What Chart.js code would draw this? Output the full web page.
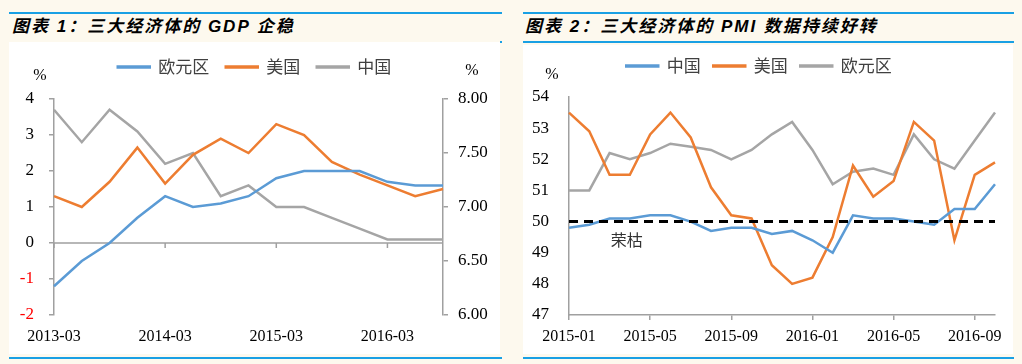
<!DOCTYPE html>
<html>
<head>
<meta charset="utf-8">
<script src="https://cdn.jsdelivr.net/npm/chart.js@4.4.1/dist/chart.umd.min.js"></script>
<style>
body { margin: 0; background: #fdf9ee; width: 1022px; height: 364px; position: relative; overflow: hidden; }
.rule { position: absolute; height: 2px; background: #19a0e4; }
.title { position: absolute; font-family: "Liberation Sans", "Noto Sans CJK SC", sans-serif; font-weight: bold; font-style: italic; font-size: 17px; letter-spacing: 2px; line-height: 20px; color: #000; white-space: nowrap; }
.panel { position: absolute; background: #fff; }
canvas { display: block; }
</style>
</head>
<body>
<div class="rule" style="left:9px;top:12px;width:493px"></div>
<div class="title" style="left:12px;top:17px">图表 1：三大经济体的 GDP 企稳</div>
<div class="panel" style="left:9px;top:42px;width:491px;height:312px"><canvas id="gdp" width="491" height="312"></canvas></div>
<div class="rule" style="left:500px;top:41px;width:2px"></div>
<div class="rule" style="left:9px;top:357px;width:493px"></div>

<div class="rule" style="left:523px;top:12px;width:491px"></div>
<div class="title" style="left:525px;top:17px">图表 2：三大经济体的 PMI 数据持续好转</div>
<div class="rule" style="left:523px;top:41px;width:491px"></div>
<div class="panel" style="left:523px;top:45px;width:490px;height:309px"><canvas id="pmi" width="490" height="309"></canvas></div>
<div class="rule" style="left:523px;top:357px;width:491px"></div>

<script>
// GDP, quarterly, %
const gdpLabels = ['2013-03', '2013-06', '2013-09', '2013-12', '2014-03', '2014-06', '2014-09', '2014-12',
    '2015-03', '2015-06', '2015-09', '2015-12', '2016-03', '2016-06', '2016-09'];
const gdpEuro = [-1.2, -0.5, 0.0, 0.7, 1.3, 1.0, 1.1, 1.3, 1.8, 2.0, 2.0, 2.0, 1.7, 1.6, 1.6];
const gdpUS = [1.3, 1.0, 1.7, 2.65, 1.65, 2.45, 2.9, 2.5, 3.3, 3.0, 2.25, 1.9, 1.6, 1.3, 1.5];
const gdpChina = [7.9, 7.6, 7.9, 7.7, 7.4, 7.5, 7.1, 7.2, 7.0, 7.0, 6.9, 6.8, 6.7, 6.7, 6.7];

// PMI, monthly
const pmiLabels = ['2015-01', '2015-02', '2015-03', '2015-04', '2015-05', '2015-06', '2015-07', '2015-08',
    '2015-09', '2015-10', '2015-11', '2015-12', '2016-01', '2016-02', '2016-03', '2016-04', '2016-05',
    '2016-06', '2016-07', '2016-08', '2016-09', '2016-10'];
const pmiChina = [49.8, 49.9, 50.1, 50.1, 50.2, 50.2, 50.0, 49.7, 49.8, 49.8, 49.6, 49.7, 49.4, 49.0,
    50.2, 50.1, 50.1, 50.0, 49.9, 50.4, 50.4, 51.2];
const pmiUS = [53.5, 52.9, 51.5, 51.5, 52.8, 53.5, 52.7, 51.1, 50.2, 50.1, 48.6, 48.0, 48.2, 49.5,
    51.8, 50.8, 51.3, 53.2, 52.6, 49.4, 51.5, 51.9];
const pmiEuro = [51.0, 51.0, 52.2, 52.0, 52.2, 52.5, 52.4, 52.3, 52.0, 52.3, 52.8, 53.2, 52.3, 51.2,
    51.6, 51.7, 51.5, 52.8, 52.0, 51.7, 52.6, 53.5];
const pmiBoom = pmiLabels.map(() => 50);

const BLUE = '#5b9bd5';
const ORANGE = '#ed7d31';
const GRAY = '#a5a5a5';
const AXIS = '#a0a0a0';
const serif = { family: '"Liberation Serif", "Times New Roman", serif', size: 17 };
const xFont = { family: '"Liberation Serif", "Times New Roman", serif', size: 16 };
const cjk = { family: '"Noto Sans CJK SC", sans-serif', size: 17 };

const everyFourth = s => { s.ticks = s.ticks.filter((t, i) => i % 4 === 0); };

// empty title used as a gap between legend and plot
const spacer = gap => ({
    display: true, text: '', weight: 500, font: { size: 10, lineHeight: 1 },
    padding: { top: 0, bottom: gap - 10 }
});

const extras = {
    id: 'extras',
    beforeDatasetsDraw(chart, args, opts) {
        if (!opts.zeroLine) return;
        const { ctx, chartArea, scales: { x, y } } = chart;
        const y0 = y.getPixelForValue(0);
        ctx.save();
        ctx.strokeStyle = AXIS;
        ctx.lineWidth = 1.5;
        ctx.beginPath();
        ctx.moveTo(chartArea.left, y0);
        ctx.lineTo(chartArea.right, y0);
        x.ticks.forEach(t => {
            const px = x.getPixelForValue(t.value);
            ctx.moveTo(px, y0);
            ctx.lineTo(px, y0 + 5);
        });
        ctx.stroke();
        ctx.restore();
    },
    afterDraw(chart, args, opts) {
        const { ctx, chartArea } = chart;
        ctx.save();
        ctx.textAlign = 'center';
        ctx.textBaseline = 'middle';
        ctx.fillStyle = '#000';
        ctx.font = '16px "Liberation Serif"';
        (opts.units || []).forEach(u => {
            const sx = u.side === 'right' ? chartArea.right : chartArea.left;
            ctx.fillText('%', sx + u.dx, chartArea.top + u.dy);
        });
        if (opts.note) {
            ctx.font = '16px "Noto Sans CJK SC"';
            ctx.fillStyle = '#333';
            ctx.fillText(opts.note.text, chart.scales.x.getPixelForValue(opts.note.x),
                chart.scales.y.getPixelForValue(opts.note.y));
        }
        ctx.restore();
    }
};

function line(label, data, color, extra) {
    return Object.assign({
        label: label, data: data, borderColor: color, backgroundColor: color,
        borderWidth: 2.5, pointRadius: 0, tension: 0, fill: false
    }, extra || {});
}

new Chart(document.getElementById('gdp'), {
    type: 'line',
    data: {
        labels: gdpLabels,
        datasets: [
            line('欧元区', gdpEuro, BLUE),
            line('美国', gdpUS, ORANGE),
            line('中国', gdpChina, GRAY, { yAxisID: 'y1' })
        ]
    },
    options: {
        responsive: false,
        animation: false,
        devicePixelRatio: 1,
        layout: { padding: 0 },
        plugins: {
            legend: {
                labels: { boxWidth: 32, boxHeight: 1, padding: 16.5, font: cjk, color: '#404040' }
            },
            title: spacer(13.5),
            tooltip: { enabled: false },
            extras: {
                zeroLine: true,
                units: [{ side: 'left', dx: -14, dy: -23 }, { side: 'right', dx: 29, dy: -28 }]
            }
        },
        scales: {
            x: {
                afterBuildTicks: everyFourth,
                afterFit: s => { s.height = 39; },
                border: { display: false },
                grid: { display: false, drawTicks: false },
                ticks: { autoSkip: false, maxRotation: 0, padding: 12, font: xFont, color: '#000' }
            },
            y: {
                min: -2, max: 4,
                afterFit: s => { s.width = 45; },
                border: { display: true, color: AXIS, width: 1.5 },
                grid: { drawOnChartArea: false, tickLength: 5, color: AXIS, lineWidth: 1.5 },
                ticks: {
                    stepSize: 1, padding: 15, font: serif,
                    color: c => (c.tick && c.tick.value < 0 ? '#ff0000' : '#000')
                }
            },
            y1: {
                position: 'right',
                min: 6, max: 8,
                afterFit: s => { s.width = 57; },
                border: { display: true, color: AXIS, width: 1.5 },
                grid: { drawOnChartArea: false, tickLength: 5, color: AXIS, lineWidth: 1.5 },
                ticks: { stepSize: 0.5, padding: 10, font: serif, color: '#000', callback: v => v.toFixed(2) }
            }
        }
    },
    plugins: [extras]
});

new Chart(document.getElementById('pmi'), {
    type: 'line',
    data: {
        labels: pmiLabels,
        datasets: [
            line('中国', pmiChina, BLUE),
            line('美国', pmiUS, ORANGE),
            line('欧元区', pmiEuro, GRAY),
            line('荣枯线', pmiBoom, '#000', { borderWidth: 3, borderDash: [9, 6], order: -1 })
        ]
    },
    options: {
        responsive: false,
        animation: false,
        devicePixelRatio: 1,
        layout: { padding: { top: 0, right: 18, left: 0, bottom: 0 } },
        plugins: {
            legend: {
                labels: {
                    boxWidth: 32, boxHeight: 1, padding: 12.5, font: cjk, color: '#404040',
                    filter: item => item.datasetIndex < 3
                }
            },
            title: spacer(12.5),
            tooltip: { enabled: false },
            extras: {
                units: [{ side: 'left', dx: -17, dy: -22 }],
                note: { text: '荣枯', x: 2.85, y: 49.4 }
            }
        },
        scales: {
            x: {
                afterBuildTicks: everyFourth,
                afterFit: s => { s.height = 39; },
                border: { display: true, color: AXIS, width: 1.5 },
                grid: { drawOnChartArea: false, tickLength: 5, color: AXIS, lineWidth: 1.5 },
                ticks: { autoSkip: false, maxRotation: 0, padding: 7, font: xFont, color: '#000' }
            },
            y: {
                min: 47, max: 54,
                afterFit: s => { s.width = 46; },
                border: { display: true, color: AXIS, width: 1.5 },
                grid: { display: false, drawTicks: false },
                ticks: { stepSize: 1, padding: 20, font: serif, color: '#000' }
            }
        }
    },
    plugins: [extras]
});
</script>
</body>
</html>
